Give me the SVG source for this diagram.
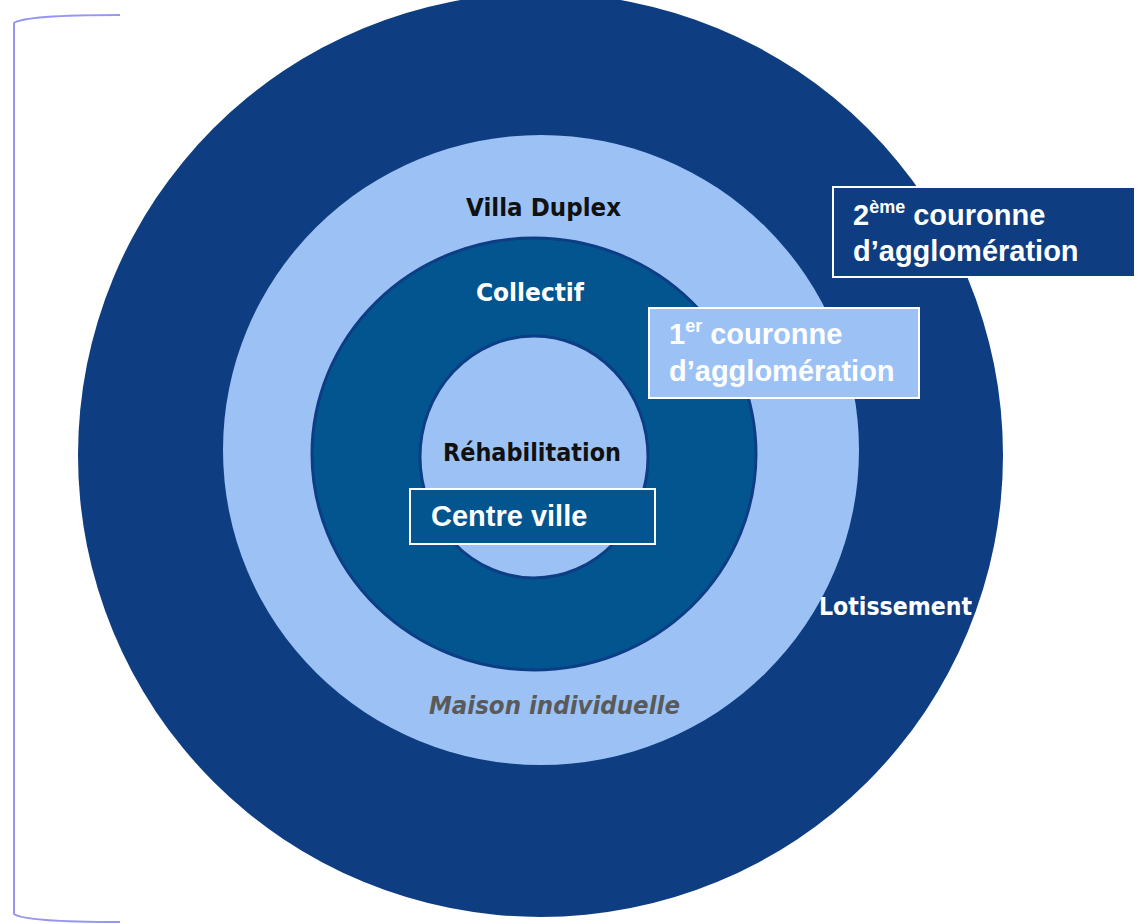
<svg xmlns="http://www.w3.org/2000/svg" width="1138" height="924" viewBox="0 0 1138 924">
<style>
.ring-outer{fill:#0e3d82}
.ring-light{fill:#9cc2f5}
.ring-mid{fill:#02558f;stroke:#0d3d85;stroke-width:3}
.ring-inner{fill:#9cc2f5;stroke:#0d3d85;stroke-width:3}
.lbl{font-family:"DejaVu Sans","Liberation Sans",sans-serif;font-weight:bold;font-size:24px}
.box-t{font-family:"Liberation Sans",Arial,sans-serif;font-weight:bold;font-size:29px;fill:#ffffff}
.box{stroke:#ffffff;stroke-width:2}
</style>
<rect width="1138" height="924" fill="#ffffff"/>
<g id="bracket">
<path d="M120 15 C60 15 22 17 14 23 L14 914 C22 920 60 922 120 922" fill="none" stroke="#9797f2" stroke-width="2"/>
</g>
<g id="ring-2eme">
<ellipse class="ring-outer" cx="540.5" cy="455" rx="462.5" ry="462"/>
</g>
<g id="ring-1er">
<ellipse class="ring-light" cx="541" cy="450" rx="318" ry="315"/>
</g>
<g id="ring-collectif">
<ellipse class="ring-mid" cx="534" cy="454" rx="222" ry="216"/>
</g>
<g id="ring-centre">
<ellipse class="ring-inner" cx="534" cy="457" rx="114" ry="121"/>
</g>
<g id="labels">
<text class="lbl" x="466" y="216" fill="#111111" textLength="155" lengthAdjust="spacingAndGlyphs">Villa Duplex</text>
<text class="lbl" x="476" y="301" fill="#ffffff" textLength="108" lengthAdjust="spacingAndGlyphs">Collectif</text>
<text class="lbl" x="443" y="461" fill="#111111" textLength="178" lengthAdjust="spacingAndGlyphs">Réhabilitation</text>
<text class="lbl" x="819" y="615" fill="#ffffff" textLength="153" lengthAdjust="spacingAndGlyphs">Lotissement</text>
<text class="lbl" x="429" y="714" fill="#5a5a5a" font-style="italic" textLength="251" lengthAdjust="spacingAndGlyphs">Maison individuelle</text>
</g>
<g id="box-centre-ville">
<rect class="box" x="410" y="489" width="245" height="55" fill="#02558f"/>
<text class="box-t" x="431" y="526">Centre ville</text>
</g>
<g id="box-1er">
<rect class="box" x="649" y="308" width="270" height="90" fill="#9cc2f5"/>
<text class="box-t" x="669" y="344">1<tspan font-size="18" dy="-12">er</tspan><tspan dy="12"> couronne</tspan></text>
<text class="box-t" x="669" y="381">d’agglomération</text>
</g>
<g id="box-2eme">
<rect class="box" x="833" y="187" width="302" height="90" fill="#0e3d82"/>
<text class="box-t" x="853" y="225">2<tspan font-size="18" dy="-12">ème</tspan><tspan dy="12"> couronne</tspan></text>
<text class="box-t" x="853" y="261">d’agglomération</text>
</g>
</svg>
